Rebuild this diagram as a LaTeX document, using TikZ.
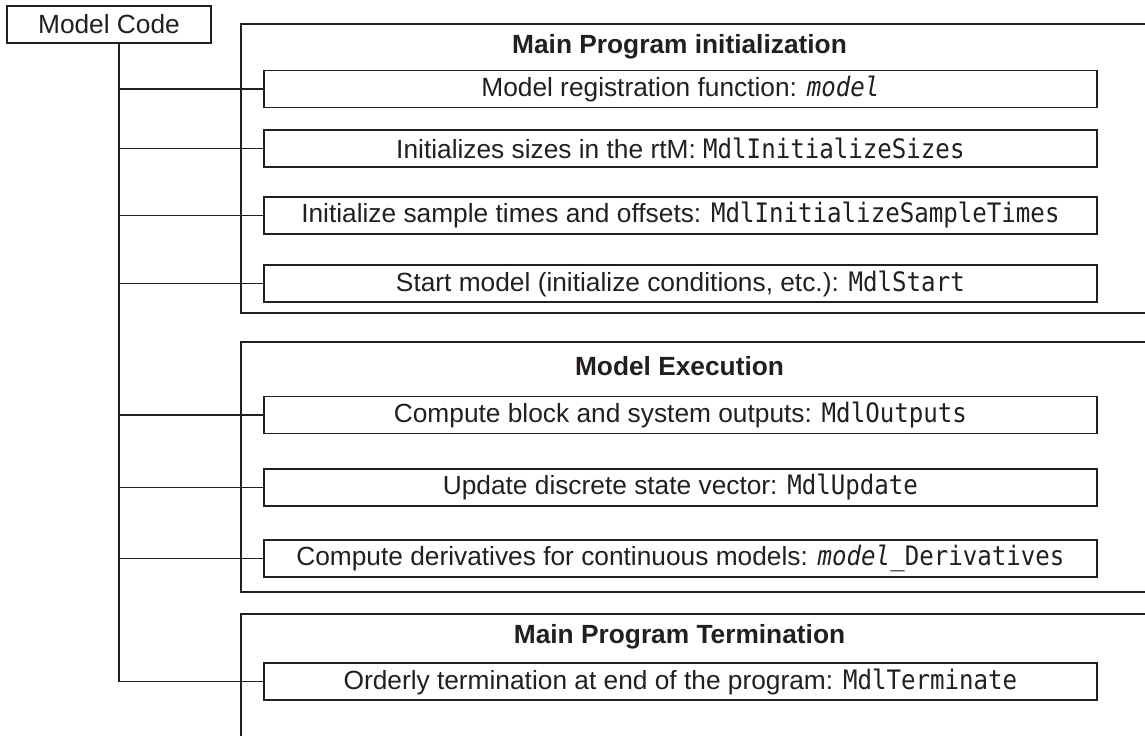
\documentclass[tikz,border=0pt]{standalone}
\usepackage{fontspec}
\setmainfont{Liberation Sans}
\newfontfamily\monofam[FakeStretch=0.9]{DejaVu Sans Mono}
\newcommand\mcode[1]{{\monofam\fontsize{13.4}{15}\selectfont #1}}
\definecolor{ink}{RGB}{35,31,32}
\begin{document}
\begin{tikzpicture}[x=0.5pt,y=-0.5pt,
  every node/.style={font=\fontsize{13.15}{15}\selectfont, text=ink},
  line/.style={draw=ink, line width=0.9pt},
  func/.style={line, inner sep=0pt, minimum width=416.5pt, minimum height=18.5pt, anchor=west},
  title/.style={font=\fontsize{13.15}{15}\selectfont\bfseries}]
\useasboundingbox (0,0) rectangle (1145,736);
% group frames (open at the right)
\draw[line] (1145,24) -- (241,24) -- (241,313) -- (1145,313);
\draw[line] (1145,342) -- (241,342) -- (241,592) -- (1145,592);
\draw[line] (1145,614) -- (241,614) -- (241,736);
% root
\node[line, inner sep=0pt, minimum width=102pt, minimum height=18.5pt] (mc) at (109,24.5) {Model Code};
% titles
\node[title] (t1) at (679.5,47) {Main Program initialization};
\node[title] (t2) at (679.5,366) {Model Execution};
\node[title] (t3) at (679.5,637) {Main Program Termination};
% function boxes
\node[func] (b1) at (263,89) {Model registration function: \mcode{\itshape model}};
\node[func] (b2) at (263,148.5) {Initializes sizes in the rtM: \mcode{MdlInitializeSizes}};
\node[func] (b3) at (263,215.5) {Initialize sample times and offsets: \mcode{MdlInitializeSampleTimes}};
\node[func] (b4) at (263,283.5) {Start model (initialize conditions, etc.): \mcode{MdlStart}};
\node[func] (b5) at (263,415) {Compute block and system outputs: \mcode{MdlOutputs}};
\node[func] (b6) at (263,487.5) {Update discrete state vector: \mcode{MdlUpdate}};
\node[func] (b7) at (263,558.5) {Compute derivatives for continuous models: \mcode{{\itshape model}\_Derivatives}};
\node[func] (b8) at (263,681.5) {Orderly termination at end of the program: \mcode{MdlTerminate}};
% trunk and branches
\coordinate (tt) at (119,43);
\draw[line] (tt) |- (b8.west);
\foreach \b in {b1,b2,b3,b4,b5,b6,b7}
  \draw[line] (tt |- \b.west) -- (\b.west);
\end{tikzpicture}
\end{document}
